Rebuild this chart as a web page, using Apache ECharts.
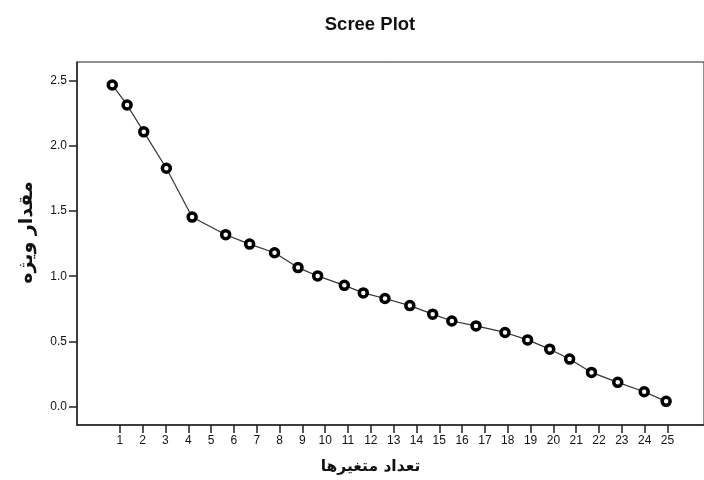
<!DOCTYPE html>
<html>
<head>
<meta charset="utf-8">
<script src="https://cdn.jsdelivr.net/npm/echarts@6/dist/echarts.min.js"></script>
<style>html,body{margin:0;padding:0;background:#fff}#c{width:704px;height:480px}</style>
</head>
<body>
<div id="c"></div>
<script>
// Component positions as drawn in the picture (x) and eigenvalues (y)
var componentPos = [0.67, 1.32, 2.05, 3.04, 4.17, 5.64, 6.69, 7.78, 8.81, 9.67, 10.84, 11.67, 12.62, 13.71, 14.71, 15.55, 16.61, 17.88, 18.87, 19.84, 20.71, 21.67, 22.82, 23.98, 24.94];
var eigenvalues = [2.465, 2.312, 2.106, 1.827, 1.453, 1.318, 1.246, 1.180, 1.066, 1.002, 0.930, 0.872, 0.829, 0.775, 0.709, 0.657, 0.619, 0.569, 0.512, 0.441, 0.365, 0.263, 0.187, 0.115, 0.041];
var xTicks = [1,2,3,4,5,6,7,8,9,10,11,12,13,14,15,16,17,18,19,20,21,22,23,24,25];
var yTicks = [0, 0.5, 1.0, 1.5, 2.0, 2.5];
var titleText = 'Scree Plot';
var xName = 'تعداد متغیرها';
var yName = 'مقدار ویژه';

var points = componentPos.map(function (x, i) { return [x, eigenvalues[i]]; });

var chart = echarts.init(document.getElementById('c'));
chart.setOption({
  animation: false,
  backgroundColor: '#fff',
  title: {
    text: titleText,
    left: 365,
    textAlign: 'center',
    top: 10,
    textStyle: { fontFamily: 'Liberation Sans, Arial, sans-serif', fontWeight: 'bold', fontSize: 18.5, color: '#111' }
  },
  grid: {
    left: 77, top: 62, right: -4, bottom: 54,
    show: true, borderColor: '#222', borderWidth: 1, backgroundColor: 'transparent'
  },
  xAxis: {
    type: 'value',
    min: -0.875, max: 26.6,
    name: xName,
    nameLocation: 'middle',
    nameGap: 34,
    nameTextStyle: { fontFamily: 'DejaVu Sans', fontWeight: 'bold', fontSize: 15.5, color: '#111', padding: [0, 40, 0, 0] },
    axisLine: { onZero: false, lineStyle: { color: '#222', width: 1.5 } },
    axisTick: { show: true, length: 8, inside: false, customValues: xTicks, lineStyle: { color: '#222', width: 1.5 } },
    axisLabel: { customValues: xTicks, color: '#111', fontSize: 12, fontFamily: 'Liberation Sans, Arial, sans-serif', margin: 10 },
    splitLine: { show: false }
  },
  yAxis: {
    type: 'value',
    min: -0.14, max: 2.641,
    name: yName,
    nameLocation: 'middle',
    nameRotate: 90,
    nameGap: 40,
    nameTextStyle: { fontFamily: 'DejaVu Sans', fontWeight: 'bold', fontSize: 19, color: '#111', padding: [0, 0, 0, 22] },
    axisLine: { show: true, onZero: false, lineStyle: { color: '#222', width: 1.5 } },
    axisTick: { show: true, length: 8, customValues: yTicks, lineStyle: { color: '#222', width: 1.5 } },
    axisLabel: {
      customValues: yTicks, color: '#111', fontSize: 12, fontFamily: 'Liberation Sans, Arial, sans-serif', margin: 10,
      formatter: function (v) { return v.toFixed(1); }
    },
    splitLine: { show: false }
  },
  series: [{
    type: 'line',
    data: points,
    symbol: 'circle',
    symbolSize: 8,
    showAllSymbol: true,
    lineStyle: { color: '#333', width: 1.2 },
    itemStyle: { color: '#fff', borderColor: '#000', borderWidth: 3.5 }
  }]
});
</script>
</body>
</html>
